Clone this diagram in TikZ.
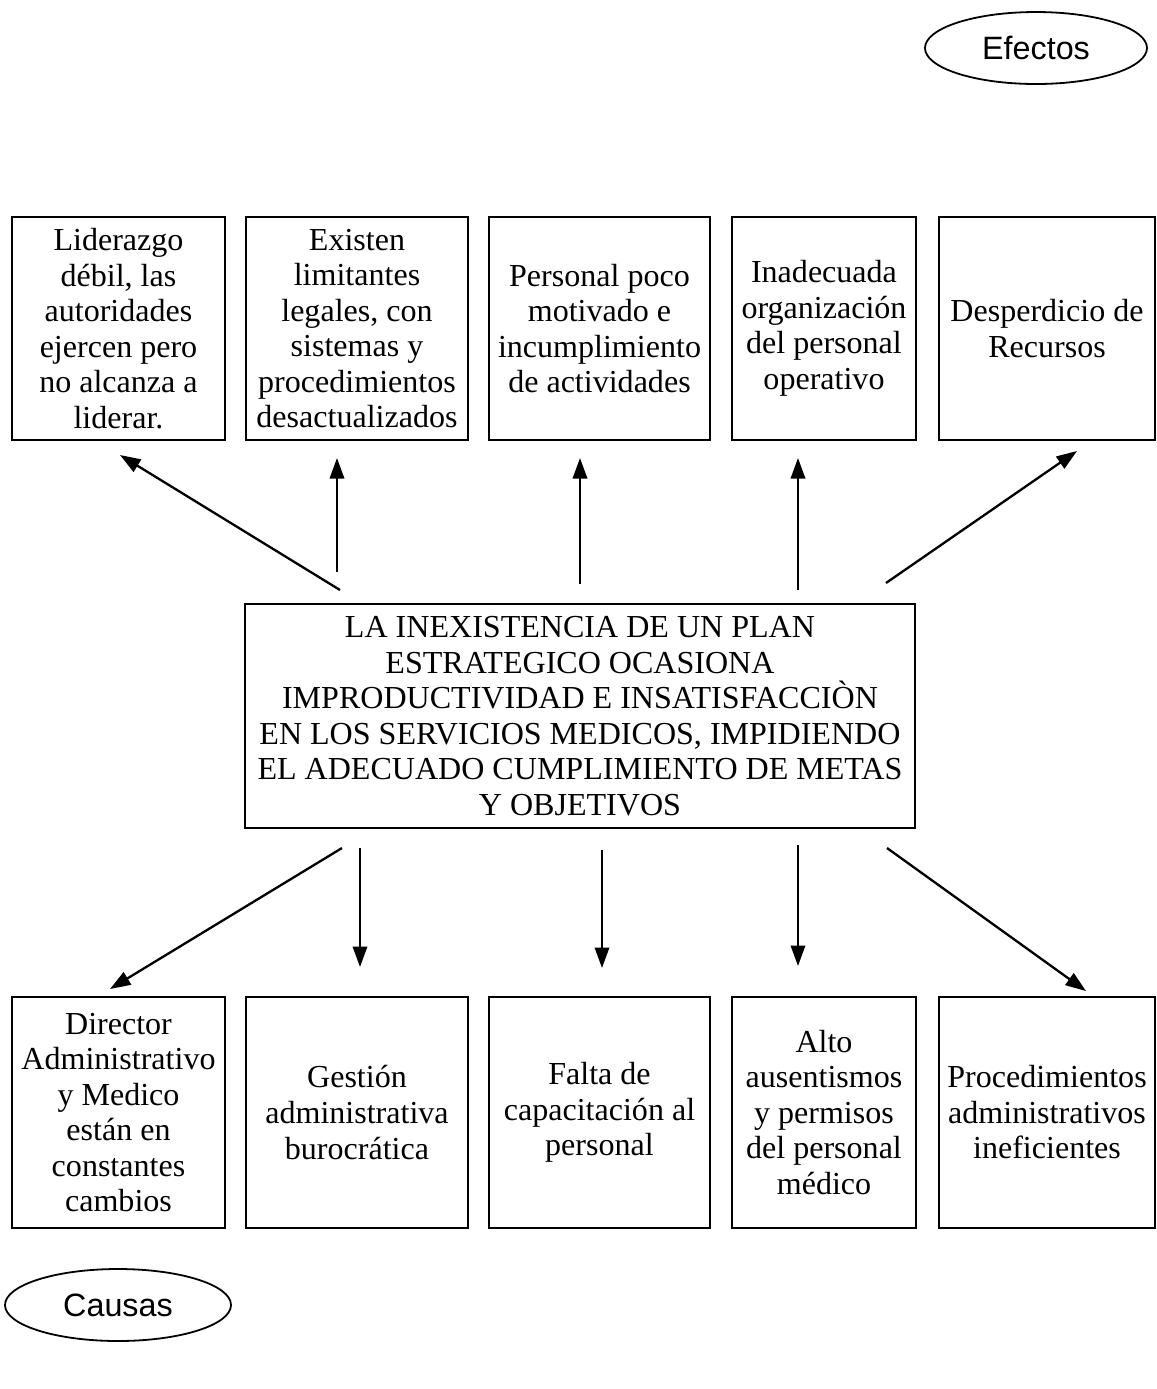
\documentclass[tikz,border=0pt]{standalone}
\usepackage{fontspec}
\setmainfont{Liberation Serif}
\newfontfamily\arialf{Liberation Sans}
\usetikzlibrary{arrows.meta,shapes.geometric}
\newlength{\upx}\setlength{\upx}{0.39pt}
\begin{document}
\begin{tikzpicture}[x=0.39pt,y=-0.39pt,
  box/.style={draw,line width=0.85pt,align=center,inner sep=0pt,font=\fontsize{12.5}{13.85}\selectfont},
  topbox/.style={box,minimum height=223\upx},
  botbox/.style={box,minimum height=231\upx},
  oval/.style={draw,ellipse,line width=0.7pt,inner sep=0pt,font=\arialf\fontsize{12.6}{14}\selectfont},
  arr/.style={line width=0.9pt,-{Triangle[length=8pt,width=5.6pt]}}]
\useasboundingbox (0,0) rectangle (1157,1389);
\fill[white] (0,0) rectangle (1157,1389);

% ovals
\node[oval,minimum width=222\upx,minimum height=72\upx] (efectos) at (1036,48) {Efectos};
\node[oval,minimum width=226\upx,minimum height=72\upx] (causas) at (118,1305) {Causas};

% effects (top row)
\node[topbox,minimum width=213\upx] (e1) at (118.5,328.5) {Liderazgo\\débil, las\\autoridades\\ejercen pero\\no alcanza a\\liderar.};
\node[topbox,minimum width=222\upx] (e2) at (357,328.5) {Existen\\limitantes\\legales, con\\sistemas y\\procedimientos\\desactualizados};
\node[topbox,minimum width=221\upx] (e3) at (599.5,328.5) {Personal poco\\motivado e\\incumplimiento\\de actividades};
\node[topbox,minimum width=184\upx] (e4) at (824,328.5) {Inadecuada\\organización\\del personal\\operativo};
\node[topbox,minimum width=216\upx] (e5) at (1047,328.5) {Desperdicio de\\Recursos};

% central problem
\node[box,minimum width=670\upx,minimum height=224\upx] (center) at (580,716) {LA INEXISTENCIA DE UN PLAN\\ESTRATEGICO OCASIONA\\IMPRODUCTIVIDAD E INSATISFACCIÒN\\EN LOS SERVICIOS MEDICOS, IMPIDIENDO\\EL ADECUADO CUMPLIMIENTO DE METAS\\Y OBJETIVOS};

% causes (bottom row)
\node[botbox,minimum width=213\upx] (c1) at (118.5,1112.5) {Director\\Administrativo\\y Medico\\están en\\constantes\\cambios};
\node[botbox,minimum width=222\upx] (c2) at (357,1112.5) {Gestión\\administrativa\\burocrática};
\node[botbox,minimum width=221\upx] (c3) at (599.5,1112.5) {Falta de\\capacitación al\\personal};
\node[botbox,minimum width=184\upx] (c4) at (824,1112.5) {Alto\\ausentismos\\y permisos\\del personal\\médico};
\node[botbox,minimum width=216\upx] (c5) at (1047,1112.5) {Procedimientos\\administrativos\\ineficientes};

% arrow end points (effects)
\coordinate (ua1) at (340,590); \coordinate (ub1) at (120,455);
\coordinate (ua2) at (337,572); \coordinate (ub2) at (337,458);
\coordinate (ua3) at (580,584); \coordinate (ub3) at (580,458);
\coordinate (ua4) at (798,590); \coordinate (ub4) at (798,458);
\coordinate (ua5) at (886,583); \coordinate (ub5) at (1077,451);
\foreach \i in {1,...,5} \draw[arr] (ua\i) -- (ub\i);

% arrow end points (causes)
\coordinate (da1) at (342,848); \coordinate (db1) at (110,989);
\coordinate (da2) at (360,848); \coordinate (db2) at (360,967);
\coordinate (da3) at (602,850); \coordinate (db3) at (602,968);
\coordinate (da4) at (798,845); \coordinate (db4) at (798,966);
\coordinate (da5) at (887,848); \coordinate (db5) at (1086,991);
\foreach \i in {1,...,5} \draw[arr] (da\i) -- (db\i);
\end{tikzpicture}
\end{document}
